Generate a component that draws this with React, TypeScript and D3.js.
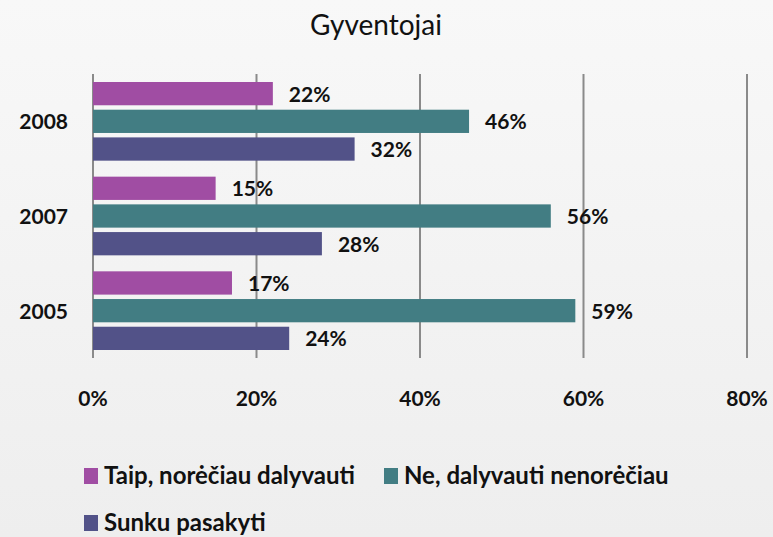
import React from "react";
import * as d3 from "d3";

const years = ["2008", "2007", "2005"];
const seriesNames = ["Taip, norėčiau dalyvauti", "Ne, dalyvauti nenorėčiau", "Sunku pasakyti"];
const taip = [22, 15, 17];
const ne = [46, 56, 59];
const sunku = [32, 28, 24];
const xTicks = [0, 20, 40, 60, 80];
const colors = ["#A04DA3", "#427D83", "#525288"];
const title = "Gyventojai";

const W = 773;
const H = 537;

export default function App() {
  const series = [taip, ne, sunku];
  const x = d3.scaleLinear().domain([0, 80]).range([93, 747]);
  const y = d3.scaleBand<string>().domain(years).range([74, 358]).paddingInner(0).paddingOuter(0);
  const inner = d3
    .scaleBand<number>()
    .domain([0, 1, 2])
    .range([8, y.bandwidth() - 8])
    .paddingInner(0.16);
  const font = "Lato, 'DejaVu Sans', sans-serif";

  return (
    <svg
      width={W}
      height={H}
      style={{ position: "absolute", left: 0, top: 0 }}
      xmlns="http://www.w3.org/2000/svg"
    >
      <defs>
        <linearGradient id="bg" x1="0" y1="0" x2="0" y2="1">
          <stop offset="0" stopColor="#f8f8f8" />
          <stop offset="1" stopColor="#eeeeee" />
        </linearGradient>
      </defs>
      <rect x={0} y={0} width={W} height={H} fill="url(#bg)" />
      <text x={376} y={35} textAnchor="middle" fontFamily={font} fontSize={28} fill="#111">
        {title}
      </text>
      {xTicks.map((t) => (
        <line key={t} x1={x(t)} x2={x(t)} y1={74} y2={358} stroke="#8a8a8a" strokeWidth={2} />
      ))}
      {years.map((yr, yi) => (
        <g key={yr} transform={`translate(0,${y(yr)})`}>
          {series.map((s, si) => {
            const by = inner(si)!;
            const bh = inner.bandwidth();
            return (
              <g key={si}>
                <rect x={x(0)} y={by} width={x(s[yi]) - x(0)} height={bh} fill={colors[si]} />
                <text
                  x={x(s[yi]) + 16}
                  y={by + bh / 2 + 8}
                  fontFamily={font}
                  fontWeight="bold"
                  fontSize={21}
                  fill="#111"
                >
                  {s[yi]}%
                </text>
              </g>
            );
          })}
          <text
            x={68}
            y={y.bandwidth() / 2 + 8}
            textAnchor="end"
            fontFamily={font}
            fontWeight="bold"
            fontSize={21}
            fill="#111"
          >
            {yr}
          </text>
        </g>
      ))}
      {xTicks.map((t) => (
        <text
          key={t}
          x={x(t)}
          y={406}
          textAnchor="middle"
          fontFamily={font}
          fontWeight="bold"
          fontSize={21}
          fill="#111"
        >
          {t}%
        </text>
      ))}
      {[
        { i: 0, lx: 84, ly: 476 },
        { i: 1, lx: 384, ly: 476 },
        { i: 2, lx: 84, ly: 523 },
      ].map(({ i, lx, ly }) => (
        <g key={i}>
          <rect x={lx} y={ly - 8} width={14} height={16} fill={colors[i]} />
          <text x={lx + 20} y={ly + 8} fontFamily={font} fontWeight="bold" fontSize={24} fill="#111">
            {seriesNames[i]}
          </text>
        </g>
      ))}
    </svg>
  );
}
